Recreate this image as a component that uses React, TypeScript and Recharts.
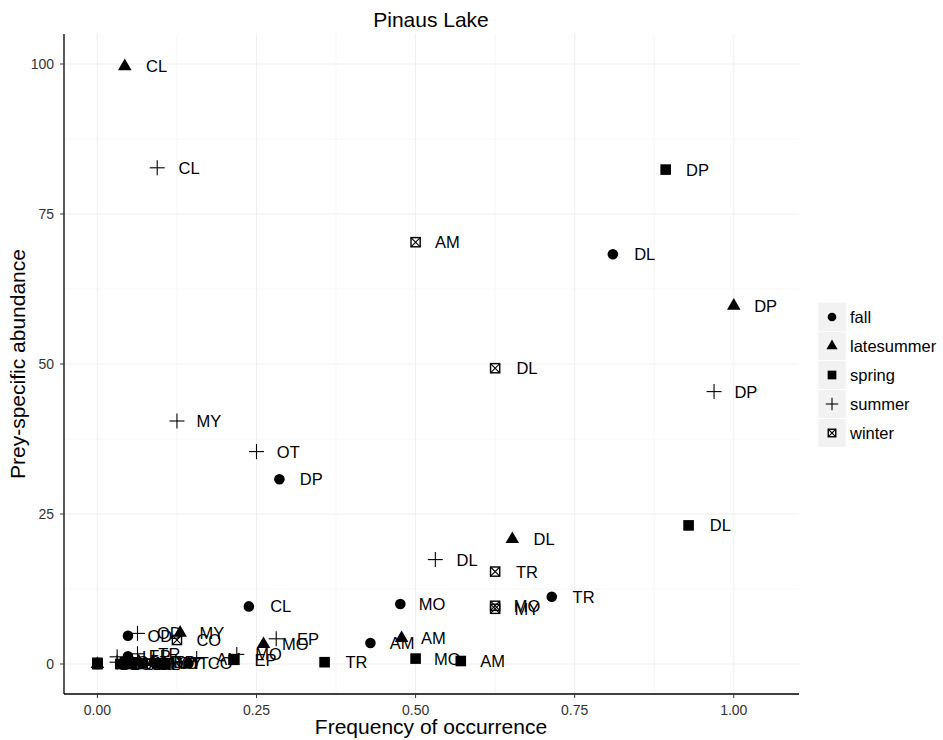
import React from 'react';
import { ScatterChart, Scatter, XAxis, YAxis, ReferenceLine, Legend } from 'recharts';

type Pt = { prey: string; freq: number; abund: number };

const seasons = ['fall', 'latesummer', 'spring', 'summer', 'winter'];

const fall: Pt[] = [
  { prey: 'AM', freq: 0.429, abund: 3.5 },
  { prey: 'CL', freq: 0.238, abund: 9.6 },
  { prey: 'DL', freq: 0.81, abund: 68.3 },
  { prey: 'DP', freq: 0.286, abund: 30.8 },
  { prey: 'EP', freq: 0.048, abund: 1.3 },
  { prey: 'MO', freq: 0.476, abund: 10.0 },
  { prey: 'MY', freq: 0.095, abund: 0.2 },
  { prey: 'OD', freq: 0.048, abund: 4.7 },
  { prey: 'OT', freq: 0.0, abund: 0.0 },
  { prey: 'TR', freq: 0.714, abund: 11.2 },
  { prey: 'CO', freq: 0.143, abund: 0.1 },
];

const latesummer: Pt[] = [
  { prey: 'AM', freq: 0.478, abund: 4.3 },
  { prey: 'CL', freq: 0.043, abund: 99.6 },
  { prey: 'DL', freq: 0.652, abund: 20.8 },
  { prey: 'DP', freq: 1.0, abund: 59.7 },
  { prey: 'EP', freq: 0.087, abund: 0.3 },
  { prey: 'MO', freq: 0.261, abund: 3.3 },
  { prey: 'MY', freq: 0.13, abund: 5.2 },
  { prey: 'OT', freq: 0.0, abund: 0.0 },
  { prey: 'TR', freq: 0.065, abund: 0.4 },
  { prey: 'CO', freq: 0.043, abund: 0.0 },
];

const spring: Pt[] = [
  { prey: 'AM', freq: 0.571, abund: 0.5 },
  { prey: 'CL', freq: 0.0, abund: 0.0 },
  { prey: 'DL', freq: 0.929, abund: 23.1 },
  { prey: 'DP', freq: 0.893, abund: 82.4 },
  { prey: 'EP', freq: 0.214, abund: 0.7 },
  { prey: 'MO', freq: 0.5, abund: 0.9 },
  { prey: 'MY', freq: 0.071, abund: 0.1 },
  { prey: 'OD', freq: 0.036, abund: 0.0 },
  { prey: 'OT', freq: 0.107, abund: 0.1 },
  { prey: 'TR', freq: 0.357, abund: 0.3 },
  { prey: 'CO', freq: 0.054, abund: 0.0 },
];

const summer: Pt[] = [
  { prey: 'AM', freq: 0.156, abund: 0.9 },
  { prey: 'CL', freq: 0.094, abund: 82.7 },
  { prey: 'DL', freq: 0.531, abund: 17.4 },
  { prey: 'DP', freq: 0.969, abund: 45.4 },
  { prey: 'EP', freq: 0.281, abund: 4.2 },
  { prey: 'MO', freq: 0.219, abund: 1.6 },
  { prey: 'MY', freq: 0.125, abund: 40.5 },
  { prey: 'OD', freq: 0.063, abund: 5.1 },
  { prey: 'OT', freq: 0.25, abund: 35.4 },
  { prey: 'TR', freq: 0.063, abund: 1.7 },
  { prey: 'LI', freq: 0.031, abund: 1.2 },
  { prey: 'CO', freq: 0.031, abund: 0.3 },
];

const winter: Pt[] = [
  { prey: 'AM', freq: 0.5, abund: 70.3 },
  { prey: 'DL', freq: 0.625, abund: 49.3 },
  { prey: 'TR', freq: 0.625, abund: 15.4 },
  { prey: 'MO', freq: 0.625, abund: 9.7 },
  { prey: 'MY', freq: 0.625, abund: 9.2 },
  { prey: 'CO', freq: 0.125, abund: 4.0 },
  { prey: 'OD', freq: 0.0, abund: 0.0 },
  { prey: 'EP', freq: 0.0, abund: 0.2 },
  { prey: 'CL', freq: 0.063, abund: 0.0 },
  { prey: 'OT', freq: 0.094, abund: 0.1 },
];

const xTicks = [0, 0.25, 0.5, 0.75, 1];
const yTicks = [0, 25, 50, 75, 100];
const xMinor = [0.125, 0.375, 0.625, 0.875];
const yMinor = [12.5, 37.5, 62.5, 87.5];
const xDomain = [-0.0525, 1.1025];
const yDomain = [-5, 105];
const NUDGE_X = 0.05;

const FONT = '"Liberation Sans", Arial, Helvetica, sans-serif';

const seriesData: Record<string, Pt[]> = { fall, latesummer, spring, summer, winter };

const labelData = seasons.flatMap((s) =>
  seriesData[s].map((d) => ({ ...d, freq: d.freq + NUDGE_X }))
);

function Glyph({ kind, cx, cy, k = 1 }: { kind: string; cx: number; cy: number; k?: number }) {
  if (kind === 'fall') return <circle cx={cx} cy={cy} r={5.3 * k} fill="#000" />;
  if (kind === 'latesummer') {
    const w = 6.8 * k;
    const top = 7.8 * k;
    const bot = 3.9 * k;
    return <polygon points={`${cx - w},${cy + bot} ${cx + w},${cy + bot} ${cx},${cy - top}`} fill="#000" />;
  }
  if (kind === 'spring') {
    const h = 5.3 * k;
    return <rect x={cx - h} y={cy - h} width={2 * h} height={2 * h} fill="#000" />;
  }
  if (kind === 'summer') {
    const a = 7.5 * k;
    return (
      <g stroke="#000" strokeWidth={1.1}>
        <line x1={cx - a} y1={cy} x2={cx + a} y2={cy} />
        <line x1={cx} y1={cy - a} x2={cx} y2={cy + a} />
      </g>
    );
  }
  const h = 4.6 * k;
  return (
    <g stroke="#000" fill="none">
      <rect x={cx - h} y={cy - h} width={2 * h} height={2 * h} strokeWidth={1.4} />
      <line x1={cx - h} y1={cy - h} x2={cx + h} y2={cy + h} strokeWidth={1.1} />
      <line x1={cx - h} y1={cy + h} x2={cx + h} y2={cy - h} strokeWidth={1.1} />
    </g>
  );
}

const makeShape = (kind: string) => (p: any) => <Glyph kind={kind} cx={p.cx} cy={p.cy} />;

const labelShape = (p: any) => (
  <text
    x={p.cx}
    y={p.cy}
    dy="0.36em"
    textAnchor="middle"
    fontSize={16.5}
    fontFamily={FONT}
    fill="#000"
  >
    {p.payload.prey}
  </text>
);

const renderLegend = () => (
  <div style={{ fontFamily: FONT }}>
    {seasons.map((s) => (
      <div key={s} style={{ display: 'flex', alignItems: 'center', height: 28, marginBottom: 1 }}>
        <svg width={28} height={28} style={{ display: 'block' }}>
          <rect x={0} y={0} width={28} height={28} fill="#f2f2f2" />
          <Glyph kind={s} cx={14} cy={14} k={0.82} />
        </svg>
        <span style={{ marginLeft: 4, fontSize: 16.5, color: '#000', whiteSpace: 'nowrap' }}>{s}</span>
      </div>
    ))}
  </div>
);

export default function App() {
  return (
    <div style={{ position: 'relative', width: 943, height: 740, background: '#fff' }}>
      <style>{'body{margin:0;}'}</style>
      <ScatterChart width={943} height={740} margin={{ top: 34, right: 144, bottom: 0, left: 0 }}>
        {xMinor.map((v) => (
          <ReferenceLine key={'xm' + v} x={v} stroke="#f6f6f6" strokeWidth={1} />
        ))}
        {yMinor.map((v) => (
          <ReferenceLine key={'ym' + v} y={v} stroke="#f6f6f6" strokeWidth={1} />
        ))}
        {xTicks.map((v) => (
          <ReferenceLine key={'xM' + v} x={v} stroke="#efefef" strokeWidth={1} />
        ))}
        {yTicks.map((v) => (
          <ReferenceLine key={'yM' + v} y={v} stroke="#efefef" strokeWidth={1} />
        ))}
        <XAxis
          type="number"
          dataKey="freq"
          domain={xDomain}
          ticks={xTicks}
          allowDataOverflow
          height={46}
          tickFormatter={(v: number) => v.toFixed(2)}
          tick={{ fill: '#333', fontSize: 14, fontFamily: FONT }}
          tickLine={{ stroke: '#333' }}
          tickSize={4}
          tickMargin={7}
          axisLine={{ stroke: '#000', strokeWidth: 1.3 }}
        />
        <YAxis
          type="number"
          dataKey="abund"
          domain={yDomain}
          ticks={yTicks}
          allowDataOverflow
          width={64}
          tick={{ fill: '#333', fontSize: 14, fontFamily: FONT }}
          tickLine={{ stroke: '#333' }}
          tickSize={4}
          tickMargin={6}
          axisLine={{ stroke: '#000', strokeWidth: 1.3 }}
        />
        {seasons.map((s) => (
          <Scatter
            key={s}
            name={s}
            data={seriesData[s]}
            shape={makeShape(s)}
            isAnimationActive={false}
          />
        ))}
        <Scatter name="labels" data={labelData} shape={labelShape} legendType="none" isAnimationActive={false} />
        <Legend
          layout="vertical"
          align="center"
          verticalAlign="middle"
          content={renderLegend}
          wrapperStyle={{ position: 'absolute', left: 818, top: 303, width: 125, height: 150 }}
        />
      </ScatterChart>
      <svg
        width={943}
        height={740}
        style={{ position: 'absolute', left: 0, top: 0, pointerEvents: 'none' }}
      >
        <text x={431} y={27} textAnchor="middle" fontSize={21} fontFamily={FONT} fill="#000">
          Pinaus Lake
        </text>
        <text x={431} y={734} textAnchor="middle" fontSize={21} fontFamily={FONT} fill="#000">
          Frequency of occurrence
        </text>
        <text
          x={0}
          y={0}
          transform="translate(25,364) rotate(-90)"
          textAnchor="middle"
          fontSize={21}
          fontFamily={FONT}
          fill="#000"
        >
          Prey-specific abundance
        </text>
      </svg>
    </div>
  );
}
